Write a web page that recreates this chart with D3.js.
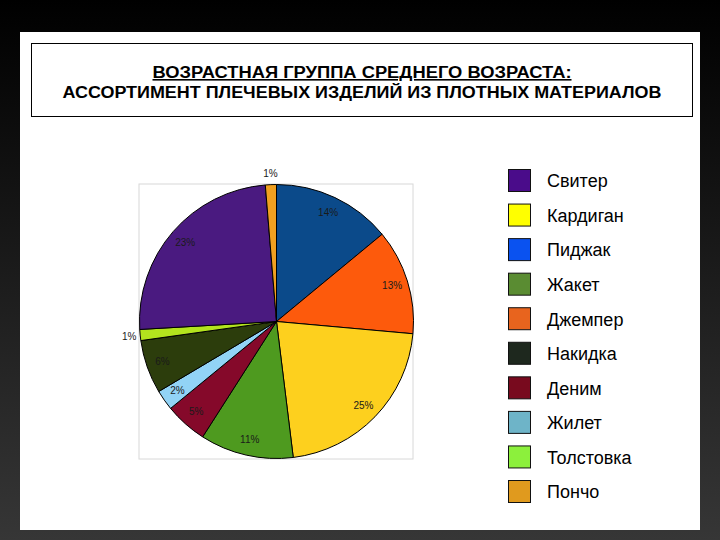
<!DOCTYPE html>
<html>
<head>
<meta charset="utf-8">
<script src="https://cdn.jsdelivr.net/npm/d3@7"></script>
<style>
  html, body { margin: 0; padding: 0; background: #000; }
  svg { display: block; }
</style>
</head>
<body>
<svg id="chart" width="720" height="540"></svg>
<script>
// legend order
const categories = ["Свитер", "Кардиган", "Пиджак", "Жакет", "Джемпер", "Накидка", "Деним", "Жилет", "Толстовка", "Пончо"];
// slice shares (%)
const shares = [24.6, 21.6, 14.0, 11.0, 12.4, 6.3, 5.0, 2.4, 1.3, 1.3];
// percent text printed on the slices
const shareLabels = ["23%", "25%", "14%", "11%", "13%", "6%", "5%", "2%", "1%", "1%"];
// clockwise order of slices starting at 12 o'clock
const pieOrder = ["Пиджак", "Джемпер", "Кардиган", "Жакет", "Деним", "Жилет", "Накидка", "Толстовка", "Свитер", "Пончо"];

const titleLines = ["ВОЗРАСТНАЯ ГРУППА СРЕДНЕГО ВОЗРАСТА:", "АССОРТИМЕНТ ПЛЕЧЕВЫХ ИЗДЕЛИЙ ИЗ ПЛОТНЫХ МАТЕРИАЛОВ"];

// colours: pie and legend were rendered slightly differently in the original
const pieColor = {
  "Свитер": "#4a1a80", "Кардиган": "#fdd01e", "Пиджак": "#0b4a8a", "Жакет": "#4e9a1f",
  "Джемпер": "#fd5a0c", "Накидка": "#2c3d0c", "Деним": "#85092a", "Жилет": "#92d3f6",
  "Толстовка": "#b3e31e", "Пончо": "#f0a020"
};
const legendColor = {
  "Свитер": "#4a0c8a", "Кардиган": "#ffff00", "Пиджак": "#0a52f0", "Жакет": "#5a8c32",
  "Джемпер": "#e8641e", "Накидка": "#1e281e", "Деним": "#780a1e", "Жилет": "#6eb4c8",
  "Толстовка": "#8cf03c", "Пончо": "#e09a1e"
};

const svg = d3.select("#chart");

// background
const defs = svg.append("defs");
const grad = defs.append("linearGradient").attr("id", "bg")
  .attr("x1", 0).attr("y1", 0).attr("x2", 0).attr("y2", 1);
grad.append("stop").attr("offset", "0%").attr("stop-color", "#000");
grad.append("stop").attr("offset", "100%").attr("stop-color", "#363636");
svg.append("rect").attr("width", 720).attr("height", 540).attr("fill", "url(#bg)");

// white slide panel
svg.append("rect").attr("x", 20).attr("y", 32).attr("width", 680).attr("height", 498).attr("fill", "#fff");

// title box
svg.append("rect").attr("x", 31.5).attr("y", 43.5).attr("width", 661).attr("height", 73)
  .attr("fill", "none").attr("stroke", "#000").attr("stroke-width", 1);

const titleWidths = [419, 599];
svg.selectAll(".title").data(titleLines).enter()
  .append("text")
  .attr("class", "title")
  .attr("x", 362)
  .attr("y", (d, i) => 78 + i * 20)
  .attr("text-anchor", "middle")
  .attr("textLength", (d, i) => titleWidths[i])
  .attr("lengthAdjust", "spacingAndGlyphs")
  .style("font-family", "Liberation Sans, Arial, sans-serif")
  .style("font-weight", "bold")
  .style("font-size", "16px")
  .style("text-decoration", (d, i) => i === 0 ? "underline" : "none")
  .text(d => d);

// pie
const cx = 276.5, cy = 321.5, radius = 137;
const pieData = pieOrder.map(name => {
  const i = categories.indexOf(name);
  return { name: name, value: shares[i], label: shareLabels[i] };
});

// plot area frame
svg.append("rect")
  .attr("x", cx - radius - 0.5).attr("y", cy - radius - 0.5)
  .attr("width", radius * 2).attr("height", radius * 2 + 1)
  .attr("fill", "none").attr("stroke", "#d8d8d8").attr("stroke-width", 1);

const pie = d3.pie().sort(null).value(d => d.value);
const arcs = pie(pieData);
const arc = d3.arc().innerRadius(0).outerRadius(radius);
const labelArcIn = d3.arc().innerRadius(121).outerRadius(121);
const labelArcOut = d3.arc().innerRadius(148).outerRadius(148);

const g = svg.append("g").attr("transform", `translate(${cx},${cy})`);

g.selectAll("path").data(arcs).enter()
  .append("path")
  .attr("d", arc)
  .attr("fill", d => pieColor[d.data.name])
  .attr("stroke", "#000")
  .attr("stroke-width", 1);

g.selectAll(".pct").data(arcs).enter()
  .append("text")
  .attr("class", "pct")
  .attr("transform", d => {
    const c = (d.data.value < 1.5 ? labelArcOut : labelArcIn).centroid(d);
    return `translate(${c[0]},${c[1]})`;
  })
  .attr("text-anchor", "middle")
  .attr("dy", "0.35em")
  .style("font-family", "Liberation Sans, Arial, sans-serif")
  .style("font-size", "10px")
  .style("fill", "#1a1a1a")
  .text(d => d.data.label);

// legend
const legendY = d3.scaleLinear().domain([0, categories.length - 1]).range([180, 491]);
const legend = svg.selectAll(".legend").data(categories).enter()
  .append("g")
  .attr("class", "legend")
  .attr("transform", (d, i) => `translate(508,${legendY(i)})`);

legend.append("rect")
  .attr("x", 0.5).attr("y", -10.5)
  .attr("width", 22).attr("height", 22)
  .attr("fill", d => legendColor[d])
  .attr("stroke", "#111")
  .attr("stroke-width", 1);

legend.append("text")
  .attr("x", 39)
  .attr("y", 1)
  .attr("dy", "0.35em")
  .style("font-family", "Liberation Sans, Arial, sans-serif")
  .style("font-size", "18px")
  .style("fill", "#000")
  .text(d => d);
</script>
</body>
</html>
